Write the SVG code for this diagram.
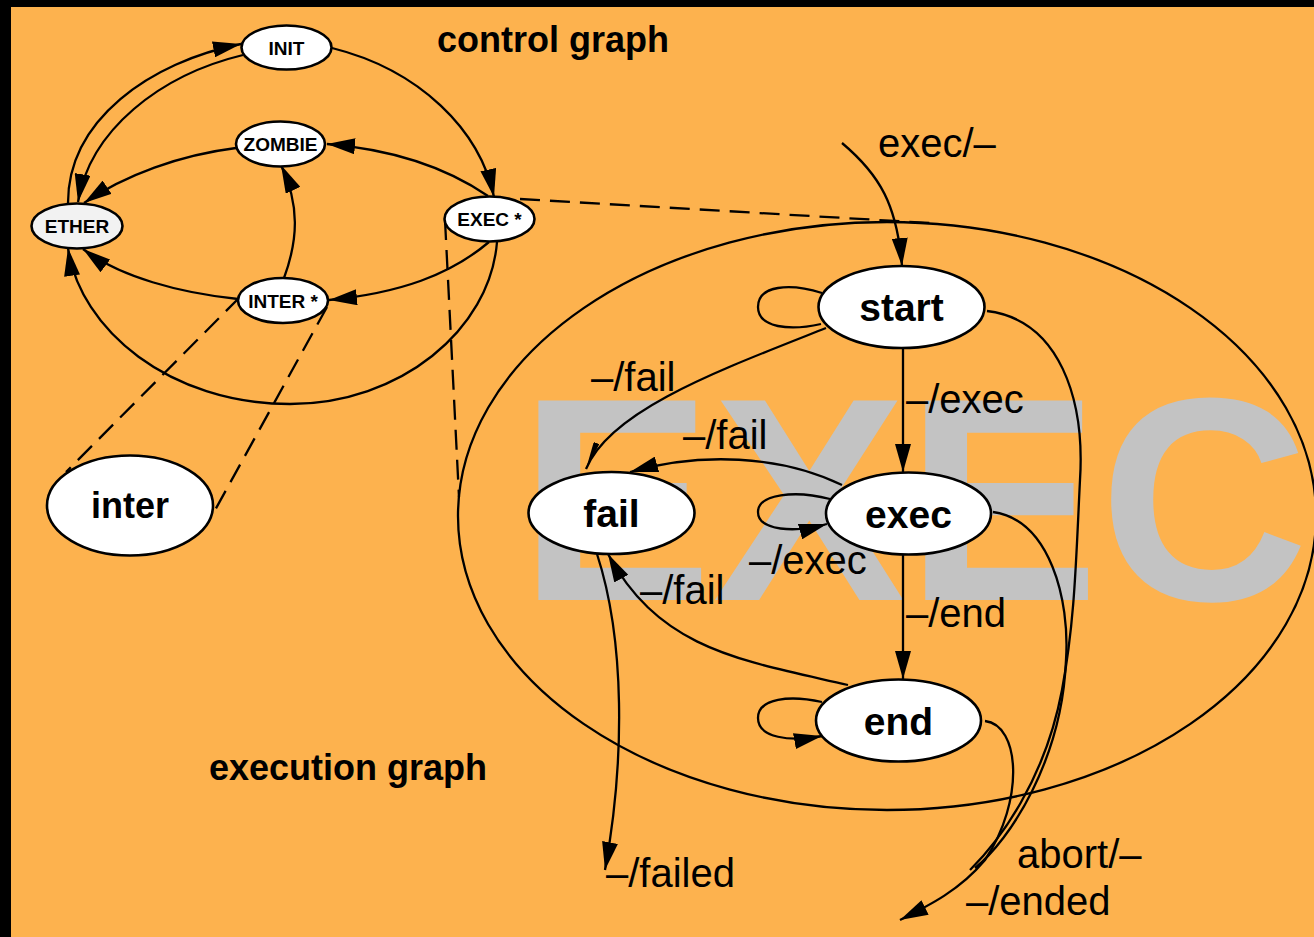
<svg xmlns="http://www.w3.org/2000/svg" width="1314" height="937" viewBox="0 0 1314 937">
  <defs>
    <marker id="arrow" viewBox="0 0 28 16" refX="28" refY="8" markerWidth="28" markerHeight="16" markerUnits="userSpaceOnUse" orient="auto">
      <path d="M0,0 L28,8 L0,16 Z" fill="#000"/>
    </marker>
    <marker id="arrow-thin" viewBox="0 0 28 6" refX="28" refY="3" markerWidth="28" markerHeight="6" markerUnits="userSpaceOnUse" orient="auto">
      <path d="M0,0 L28,3 L0,6 Z" fill="#000"/>
    </marker>
  </defs>
  <style>
    .edge { fill: none; stroke: #000; stroke-width: 2.3; }
    .dash { fill: none; stroke: #000; stroke-width: 2.3; stroke-dasharray: 20 10; }
    .node { fill: #fff; stroke: #000; stroke-width: 2.6; }
    .ether { fill: #f2f2f2; }
    .small { font-family: "Liberation Sans", Arial, sans-serif; font-weight: bold; font-size: 19px; text-anchor: middle; fill: #000; }
    .big { font-family: "Liberation Sans", Arial, sans-serif; font-weight: bold; font-size: 39px; text-anchor: middle; fill: #000; }
    .lbl { font-family: "Liberation Sans", Arial, sans-serif; font-size: 40px; fill: #000; }
    .title { font-family: "Liberation Sans", Arial, sans-serif; font-weight: bold; font-size: 36px; fill: #000; }
  </style>

  <!-- background and frame -->
  <rect x="0" y="0" width="1314" height="937" fill="#fdb24e"/>
  <rect x="0" y="0" width="1314" height="7" fill="#000"/>
  <rect x="0" y="0" width="11" height="937" fill="#000"/>

  <!-- watermark of the expanded state -->
  <text x="519" y="600" font-family="Liberation Sans, Arial, sans-serif" font-weight="bold" font-size="290" fill="#c3c3c3">EXEC</text>

  <!-- boundary of the expanded EXEC state -->
  <ellipse id="exec-region" cx="887" cy="516" rx="429" ry="294" fill="none" stroke="#000" stroke-width="2.3"/>

  <text class="title" x="437" y="52">control graph</text>
  <text class="title" x="209" y="780">execution graph</text>

  <g id="connectors">
    <!-- control graph -->
    <path class="edge" d="M68,203 C68,120 150,62 241,44" marker-end="url(#arrow)"/>
    <path class="edge" d="M243,55 C160,75 90,130 78,202" marker-end="url(#arrow)"/>
    <path class="edge" d="M332,48 C420,70 480,130 494,197" marker-end="url(#arrow)"/>
    <path class="edge" d="M488,196 C450,170 400,150 327,144" marker-end="url(#arrow)"/>
    <path class="edge" d="M236,148 C180,155 125,175 84,203" marker-end="url(#arrow)"/>
    <path class="edge" d="M284,278 C298,240 300,205 281,165" marker-end="url(#arrow)"/>
    <path class="edge" d="M489,242 C450,275 400,293 329,300" marker-end="url(#arrow)"/>
    <path class="edge" d="M238,299 C180,293 120,277 83,249" marker-end="url(#arrow)"/>
    <path class="edge" d="M497,242 C490,330 400,404 290,404 C170,404 80,330 68,248" marker-end="url(#arrow)"/>

    <!-- refinement links -->
    <path class="dash" d="M520,199 L930,223"/>
    <path class="dash" d="M445,220 L459,497"/>
    <path class="dash" d="M240,297 L66,472"/>
    <path class="dash" d="M327,307 L214,512"/>

    <!-- execution graph -->
    <path class="edge" d="M842,143 C880,175 897,205 902,266" marker-end="url(#arrow)"/>
    <path class="edge" d="M822,293 C790,283 758,285 758,307 C758,328 790,331 821,324"/>
    <path class="edge" d="M826,328 C720,370 610,410 586,469" marker-end="url(#arrow-thin)"/>
    <path class="edge" d="M903,348 L903,472" marker-end="url(#arrow)"/>
    <path class="edge" d="M842,485 C780,455 700,452 630,472" marker-end="url(#arrow)"/>
    <path class="edge" d="M830,499 C795,490 758,494 758,512 C758,531 795,533 827,524" marker-end="url(#arrow)"/>
    <path class="edge" d="M903,555 L903,679" marker-end="url(#arrow)"/>
    <path class="edge" d="M848,685 C740,660 660,650 608,554" marker-end="url(#arrow)"/>
    <path class="edge" d="M822,702 C790,695 758,698 758,718 C758,738 790,742 822,736" marker-end="url(#arrow)"/>
    <path class="edge" d="M597,554 C625,640 625,760 605,870" marker-end="url(#arrow)"/>
    <path class="edge" d="M987,311 C1060,320 1085,400 1080,480 C1076,560 1075,620 1062,690 C1045,780 1000,840 970,870"/>
    <path class="edge" d="M993,512 C1050,520 1070,600 1066,660 C1062,760 1010,840 975,868"/>
    <path class="edge" d="M985,721 C1020,725 1025,800 985,860 C960,890 930,905 900,920" marker-end="url(#arrow)"/>
  </g>

  <!-- control graph states -->
  <g id="INIT"><ellipse class="node" cx="286.5" cy="47.5" rx="45" ry="22"/><text class="small" x="286.5" y="55">INIT</text></g>
  <g id="ZOMBIE"><ellipse class="node" cx="280.5" cy="144" rx="44.5" ry="22.5"/><text class="small" x="280.5" y="151">ZOMBIE</text></g>
  <g id="ETHER"><ellipse class="node ether" cx="77" cy="226" rx="45.5" ry="22.5"/><text class="small" x="77" y="233">ETHER</text></g>
  <g id="EXEC"><ellipse class="node" cx="489.5" cy="219" rx="45" ry="22.5"/><text class="small" x="489.5" y="226">EXEC *</text></g>
  <g id="INTER"><ellipse class="node" cx="283" cy="300.5" rx="45" ry="22.5"/><text class="small" x="283" y="307.5">INTER *</text></g>

  <!-- execution graph states -->
  <g id="inter"><ellipse class="node" cx="130" cy="505.5" rx="83" ry="50"/><text class="big" x="130" y="518" style="font-size:36px">inter</text></g>
  <g id="start"><ellipse class="node" cx="901.5" cy="307" rx="83" ry="41"/><text class="big" x="901.5" y="321">start</text></g>
  <g id="fail"><ellipse class="node" cx="611.5" cy="513" rx="83" ry="41"/><text class="big" x="611.5" y="527">fail</text></g>
  <g id="exec"><ellipse class="node" cx="908.5" cy="513.5" rx="82.5" ry="41"/><text class="big" x="908.5" y="527.5">exec</text></g>
  <g id="end"><ellipse class="node" cx="898.5" cy="720.5" rx="82.5" ry="41"/><text class="big" x="898.5" y="734.5">end</text></g>

  <!-- transition labels -->
  <g id="labels">
    <text class="lbl" x="878" y="157">exec/–</text>
    <text class="lbl" x="591" y="391">–/fail</text>
    <text class="lbl" x="906" y="413">–/exec</text>
    <text class="lbl" x="683" y="449">–/fail</text>
    <text class="lbl" x="749" y="574">–/exec</text>
    <text class="lbl" x="640" y="604">–/fail</text>
    <text class="lbl" x="906" y="627">–/end</text>
    <text class="lbl" x="606" y="887">–/failed</text>
    <text class="lbl" x="1017" y="868">abort/–</text>
    <text class="lbl" x="966" y="915">–/ended</text>
  </g>
</svg>
